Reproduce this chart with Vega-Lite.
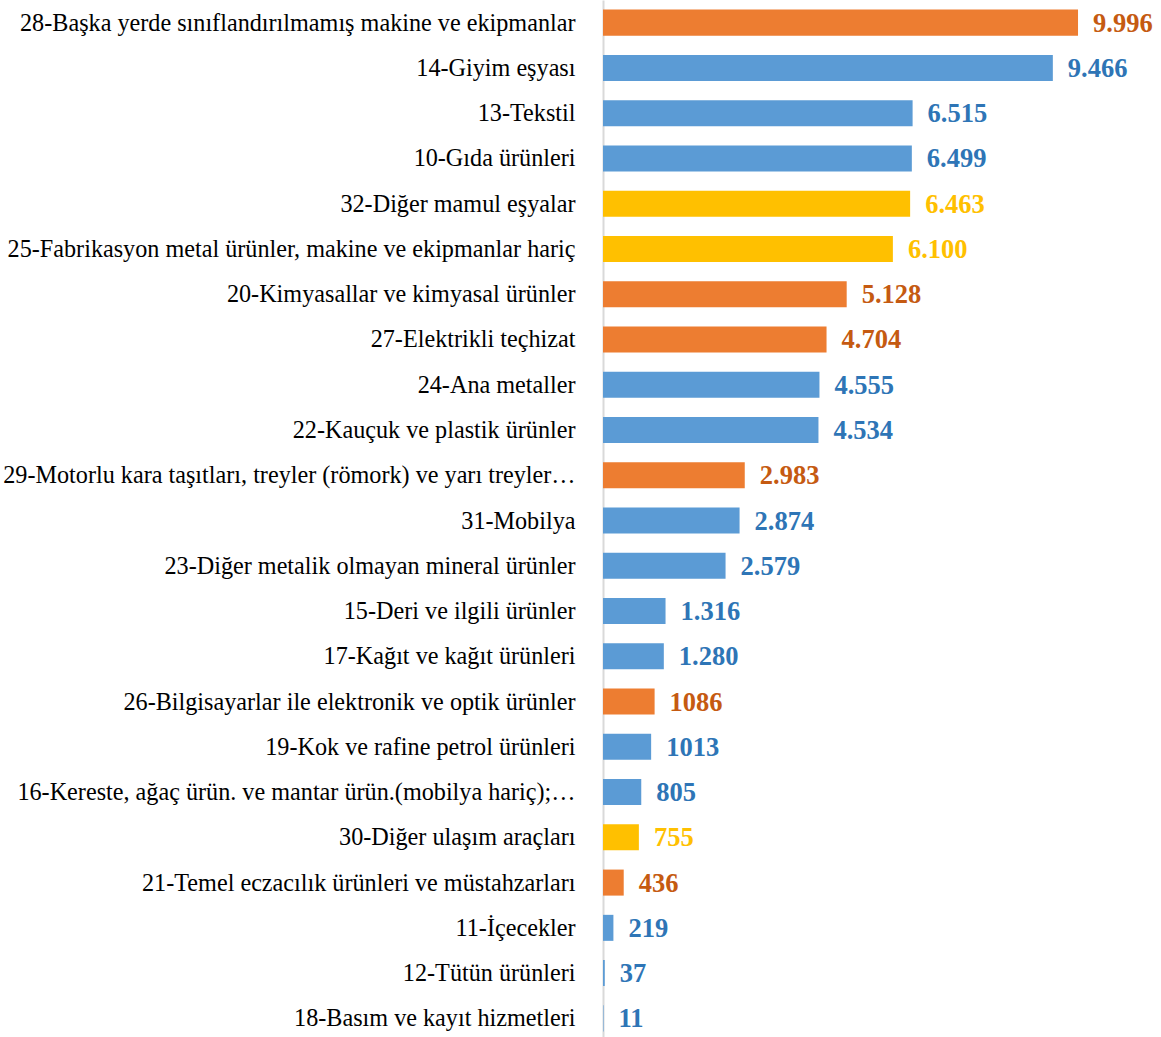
{
  "$schema": "https://vega.github.io/schema/vega-lite/v6.json",
  "width": 558,
  "height": 1041,
  "autosize": {"type": "none"},
  "padding": {"left": 603, "top": 0, "right": 0, "bottom": 0},
  "background": "white",
  "config": {"view": {"stroke": null}},
  "data": {
    "values": [
      {"sektor": "28-Başka yerde sınıflandırılmamış makine ve ekipmanlar", "deger": 9996, "etiket": "9.996", "grup": "turuncu"},
      {"sektor": "14-Giyim eşyası", "deger": 9466, "etiket": "9.466", "grup": "mavi"},
      {"sektor": "13-Tekstil", "deger": 6515, "etiket": "6.515", "grup": "mavi"},
      {"sektor": "10-Gıda ürünleri", "deger": 6499, "etiket": "6.499", "grup": "mavi"},
      {"sektor": "32-Diğer mamul eşyalar", "deger": 6463, "etiket": "6.463", "grup": "sari"},
      {"sektor": "25-Fabrikasyon metal ürünler, makine ve ekipmanlar hariç", "deger": 6100, "etiket": "6.100", "grup": "sari"},
      {"sektor": "20-Kimyasallar ve kimyasal ürünler", "deger": 5128, "etiket": "5.128", "grup": "turuncu"},
      {"sektor": "27-Elektrikli teçhizat", "deger": 4704, "etiket": "4.704", "grup": "turuncu"},
      {"sektor": "24-Ana metaller", "deger": 4555, "etiket": "4.555", "grup": "mavi"},
      {"sektor": "22-Kauçuk ve plastik ürünler", "deger": 4534, "etiket": "4.534", "grup": "mavi"},
      {"sektor": "29-Motorlu kara taşıtları, treyler (römork) ve yarı treyler…", "deger": 2983, "etiket": "2.983", "grup": "turuncu"},
      {"sektor": "31-Mobilya", "deger": 2874, "etiket": "2.874", "grup": "mavi"},
      {"sektor": "23-Diğer metalik olmayan mineral ürünler", "deger": 2579, "etiket": "2.579", "grup": "mavi"},
      {"sektor": "15-Deri ve ilgili ürünler", "deger": 1316, "etiket": "1.316", "grup": "mavi"},
      {"sektor": "17-Kağıt ve kağıt ürünleri", "deger": 1280, "etiket": "1.280", "grup": "mavi"},
      {"sektor": "26-Bilgisayarlar ile elektronik ve optik ürünler", "deger": 1086, "etiket": "1086", "grup": "turuncu"},
      {"sektor": "19-Kok ve rafine petrol ürünleri", "deger": 1013, "etiket": "1013", "grup": "mavi"},
      {"sektor": "16-Kereste, ağaç ürün. ve mantar ürün.(mobilya hariç);…", "deger": 805, "etiket": "805", "grup": "mavi"},
      {"sektor": "30-Diğer ulaşım araçları", "deger": 755, "etiket": "755", "grup": "sari"},
      {"sektor": "21-Temel eczacılık ürünleri ve müstahzarları", "deger": 436, "etiket": "436", "grup": "turuncu"},
      {"sektor": "11-İçecekler", "deger": 219, "etiket": "219", "grup": "mavi"},
      {"sektor": "12-Tütün ürünleri", "deger": 37, "etiket": "37", "grup": "mavi"},
      {"sektor": "18-Basım ve kayıt hizmetleri", "deger": 11, "etiket": "11", "grup": "mavi"}
    ]
  },
  "encoding": {
    "y": {
      "field": "sektor",
      "type": "nominal",
      "sort": null,
      "scale": {"paddingInner": 0.425, "paddingOuter": 0.2125},
      "axis": {
        "title": null,
        "ticks": false,
        "domainColor": "#d9d9d9",
        "domainWidth": 2,
        "labelFont": "Liberation Serif",
        "labelFontSize": 24.2,
        "labelColor": "#000000",
        "labelPadding": 28,
        "labelOffset": 1,
        "labelLimit": 700
      }
    },
    "x": {
      "field": "deger",
      "type": "quantitative",
      "scale": {"domain": [0, 11742], "nice": false, "zero": true},
      "axis": null
    }
  },
  "layer": [
    {
      "mark": {"type": "bar"},
      "encoding": {
        "color": {
          "field": "grup",
          "type": "nominal",
          "scale": {"domain": ["turuncu", "mavi", "sari"], "range": ["#ED7D31", "#5B9BD5", "#FFC000"]},
          "legend": null
        }
      }
    },
    {
      "mark": {"type": "text", "align": "left", "baseline": "middle", "dx": 15, "dy": 1, "font": "Liberation Serif", "fontSize": 26.5, "fontWeight": "bold"},
      "encoding": {
        "text": {"field": "etiket"},
        "color": {
          "field": "grup",
          "type": "nominal",
          "scale": {"domain": ["turuncu", "mavi", "sari"], "range": ["#C55A11", "#2E75B6", "#FFC000"]},
          "legend": null
        }
      }
    }
  ],
  "resolve": {"scale": {"color": "independent"}}
}
